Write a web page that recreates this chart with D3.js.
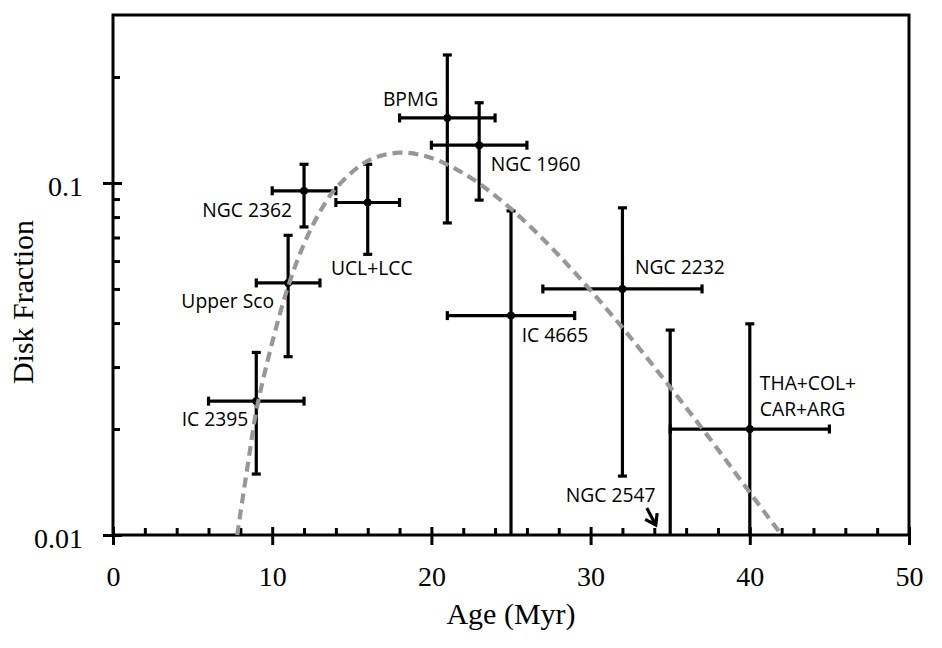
<!DOCTYPE html>
<html>
<head>
<meta charset="utf-8">
<script src="https://cdn.jsdelivr.net/npm/d3@7/dist/d3.min.js"></script>
<style>
  html, body { margin: 0; padding: 0; background: #fff; }
  svg { display: block; }
</style>
</head>
<body>
<svg id="chart" width="942" height="648"></svg>
<script>
// ---- Data ----
const clusters  = ["IC 2395", "Upper Sco", "NGC 2362", "UCL+LCC", "BPMG", "NGC 1960", "IC 4665", "NGC 2232", "NGC 2547", "THA+COL+CAR+ARG"];
const ages      = [9, 11, 12, 16, 21, 23, 25, 32, 35, 40];
const ageLow    = [6, 9, 10, 14, 18, 20, 21, 27, null, 35];
const ageHigh   = [12, 13, 14, 18, 24, 26, 29, 37, null, 45];
const fractions = [0.024, 0.052, 0.095, 0.088, 0.153, 0.128, 0.042, 0.050, null, 0.020];
const fracLow   = [0.0149, 0.0321, 0.075, 0.0627, 0.077, 0.0894, 0.01, 0.0147, 0.01, 0.01];
const fracHigh  = [0.033, 0.071, 0.113, 0.113, 0.231, 0.169, 0.0833, 0.085, 0.0382, 0.0398];

// dashed model curve
const curveAges  = [7.8, 8.5, 9, 10, 11, 12, 13, 14, 16, 18, 20, 22, 24, 26, 28, 30, 32, 34, 36, 38, 40, 42];
const curveFracs = [0.0100, 0.0162, 0.0225, 0.0352, 0.0508, 0.0671, 0.0828, 0.0966, 0.1155, 0.1219, 0.1178, 0.1066, 0.0921, 0.0768, 0.0623, 0.0495, 0.0388, 0.0300, 0.0230, 0.0175, 0.0132, 0.0100];

const xTicks = [0, 10, 20, 30, 40, 50];
const xMinorTicks = [2, 4, 6, 8, 12, 14, 16, 18, 22, 24, 26, 28, 32, 34, 36, 38, 42, 44, 46, 48];
const yTicks = [0.01, 0.1];
const yTickLabels = ["0.01", "0.1"];
const yMinorTicks = [0.02, 0.03, 0.04, 0.05, 0.06, 0.07, 0.08, 0.09, 0.2];

// ---- Layout ----
const svg = d3.select("#chart");
const L = 113, R = 909, T = 15, B = 535;
const x = d3.scaleLinear().domain([0, 50]).range([L, R]);
const y = d3.scaleLog().domain([0.01, 0.3]).range([B, T]);

const serif = "'Liberation Serif', 'Times New Roman', serif";
const sans = "'Open Sans', 'Noto Sans', sans-serif";
const AX = 3;

svg.append("rect").attr("width", 942).attr("height", 648).attr("fill", "#fff");

// ---- Axes ----
const gx = svg.append("g").attr("transform", `translate(0,${B})`)
  .call(d3.axisBottom(x).tickValues(xTicks).tickSize(10).tickPadding(14).tickFormat(d3.format("d")));
gx.select(".domain").remove();
gx.selectAll(".tick line").attr("y1", -8).attr("stroke", "#000").attr("stroke-width", AX);
gx.selectAll(".tick text").attr("font-family", serif).attr("font-size", 28).attr("fill", "#000").attr("dy", "0.95em");

const gxm = svg.append("g").attr("transform", `translate(0,${B})`)
  .call(d3.axisBottom(x).tickValues(xMinorTicks).tickSize(-7).tickFormat(""));
gxm.select(".domain").remove();
gxm.selectAll(".tick line").attr("stroke", "#000").attr("stroke-width", AX);

const gy = svg.append("g").attr("transform", `translate(${L},0)`)
  .call(d3.axisLeft(y).tickValues(yTicks).tickSize(10).tickPadding(20).tickFormat((d, i) => yTickLabels[i]));
gy.select(".domain").remove();
gy.selectAll(".tick line").attr("x1", 9).attr("stroke", "#000").attr("stroke-width", AX);
gy.selectAll(".tick text").attr("font-family", serif).attr("font-size", 28).attr("fill", "#000").attr("dy", "0.45em");

const gym = svg.append("g").attr("transform", `translate(${L},0)`)
  .call(d3.axisLeft(y).tickValues(yMinorTicks).tickSize(-7).tickFormat(""));
gym.select(".domain").remove();
gym.selectAll(".tick line").attr("stroke", "#000").attr("stroke-width", AX);

// frame
svg.append("rect").attr("x", L).attr("y", T).attr("width", R - L).attr("height", B - T)
  .attr("fill", "none").attr("stroke", "#000").attr("stroke-width", AX);

// axis titles
svg.append("text").attr("x", (L + R) / 2).attr("y", 624).attr("text-anchor", "middle")
  .attr("font-family", serif).attr("font-size", 30).attr("fill", "#000").text("Age (Myr)");
svg.append("text").attr("transform", `translate(33,${(T + B) / 2 + 27}) rotate(-90)`).attr("text-anchor", "middle")
  .attr("font-family", serif).attr("font-size", 30).attr("fill", "#000").text("Disk Fraction");

// ---- Error bars ----
const idx = d3.range(clusters.length);
const EB = 3.2, CAP = 4.5;
const g = svg.append("g").attr("stroke", "#000").attr("stroke-width", EB).attr("fill", "none");
idx.forEach(i => {
  const xc = x(ages[i]);
  const yl = y(fracLow[i]), yh = y(fracHigh[i]);
  g.append("line").attr("x1", xc).attr("x2", xc).attr("y1", yl).attr("y2", yh);
  g.append("line").attr("x1", xc - CAP).attr("x2", xc + CAP).attr("y1", yh).attr("y2", yh);
  if (fracLow[i] > 0.01) g.append("line").attr("x1", xc - CAP).attr("x2", xc + CAP).attr("y1", yl).attr("y2", yl);
  if (fractions[i] != null && ageLow[i] != null) {
    const yc = y(fractions[i]);
    const xl = x(ageLow[i]), xh = x(ageHigh[i]);
    g.append("line").attr("x1", xl).attr("x2", xh).attr("y1", yc).attr("y2", yc);
    g.append("line").attr("x1", xl).attr("x2", xl).attr("y1", yc - CAP).attr("y2", yc + CAP);
    g.append("line").attr("x1", xh).attr("x2", xh).attr("y1", yc - CAP).attr("y2", yc + CAP);
  }
});

// points
svg.append("g").selectAll("circle").data(idx.filter(i => fractions[i] != null)).join("circle")
  .attr("cx", i => x(ages[i])).attr("cy", i => y(fractions[i])).attr("r", 3.6)
  .attr("fill", "#000").attr("stroke", "#000").attr("stroke-width", 1);

// ---- Dashed curve ----
const line = d3.line().x(d => x(d[0])).y(d => y(d[1])).curve(d3.curveCatmullRom.alpha(0.5));
svg.append("path").datum(d3.zip(curveAges, curveFracs)).attr("d", line)
  .attr("fill", "none").attr("stroke", "#979797").attr("stroke-width", 4.2).attr("stroke-dasharray", "10,6");

// ---- Labels ----
const labelStyle = {
  "IC 2395":   {anchor: "end",    dx: -8,   dy: 24.5},
  "Upper Sco": {anchor: "end",    dx: -14,  dy: 25},
  "NGC 2362":  {anchor: "end",    dx: -12,  dy: 26.5},
  "UCL+LCC":   {anchor: "middle", dx: 4,    dy: 72},
  "BPMG":      {anchor: "end",    dx: -9,   dy: -12},
  "NGC 1960":  {anchor: "start",  dx: 11.5, dy: 25.7},
  "IC 4665":   {anchor: "start",  dx: 10.7, dy: 26},
  "NGC 2232":  {anchor: "start",  dx: 12.5, dy: -15.3},
  "NGC 2547":  {anchor: "end",    dx: -14.7, dy: -33.3},
  "THA+COL+CAR+ARG": {anchor: "start", dx: 10, dy: -39.3}
};
const lg = svg.append("g").attr("font-family", sans).attr("font-size", 19.3).attr("fill", "#000");
idx.forEach(i => {
  const s = labelStyle[clusters[i]];
  const px = x(ages[i]);
  const py = fractions[i] != null ? y(fractions[i]) : y(0.01);
  const t = lg.append("text").attr("x", px + s.dx).attr("y", py + s.dy).attr("text-anchor", s.anchor);
  if (clusters[i] === "THA+COL+CAR+ARG") {
    t.append("tspan").attr("x", px + s.dx).text("THA+COL+");
    t.append("tspan").attr("x", px + s.dx).attr("dy", 26.6).text("CAR+ARG");
  } else {
    t.text(clusters[i]);
  }
});

// arrow for NGC 2547
const ax2 = x(34) + 1.5, ay2 = y(0.01) - 10;
const ax1 = ax2 - 9, ay1 = ay2 - 17;
const ang = Math.atan2(ay2 - ay1, ax2 - ax1);
const hl = 12, ha = 0.6;
svg.append("path")
  .attr("d", `M${ax1},${ay1}L${ax2},${ay2}M${ax2 - hl * Math.cos(ang - ha)},${ay2 - hl * Math.sin(ang - ha)}L${ax2},${ay2}L${ax2 - hl * Math.cos(ang + ha)},${ay2 - hl * Math.sin(ang + ha)}`)
  .attr("fill", "none").attr("stroke", "#000").attr("stroke-width", 3.2).attr("stroke-linejoin", "miter");
</script>
</body>
</html>
